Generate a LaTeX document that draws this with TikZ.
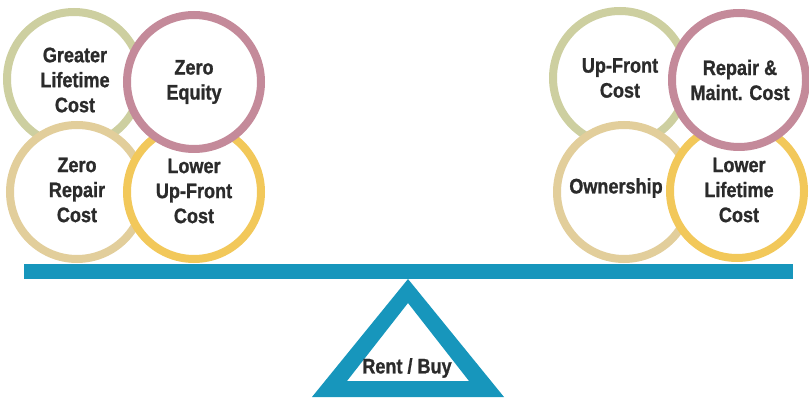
\documentclass[tikz,border=0pt]{standalone}
\usepackage{fontspec}
\setmainfont{Liberation Sans}[FakeStretch=0.86, BoldFeatures={FakeBold=1}]
\usepackage{tikz}
\definecolor{sage}{RGB}{205,207,160}
\definecolor{rose}{RGB}{196,138,154}
\definecolor{sand}{RGB}{226,206,155}
\definecolor{gold}{RGB}{242,200,90}
\definecolor{barblue}{RGB}{23,150,188}
\definecolor{labelgray}{RGB}{43,43,43}
\tikzset{
	ring/.style={circle, draw=#1, line width=8pt, fill=white, minimum size=134pt,
		inner sep=0pt},
	ringlabel/.style={align=center, inner sep=0pt, text=labelgray,
		font=\fontsize{21}{25}\selectfont\bfseries}
}

\begin{document}
\begin{tikzpicture}[x=1pt, y=-1pt]
			%%%%% START %%%%%
			\useasboundingbox (0, 0) rectangle (809, 398);
			
			% rent side
			\node[ring=sage] (greater) at (74, 79) {};
			\node[ring=sand] (zerorepair) at (77, 192) {};
			\node[ring=gold] (lowerup) at (194, 192) {};
			\node[ring=rose] (zeroeq) at (194, 82) {};
			
			% buy side
			\node[ring=sage] (upfront) at (620, 78) {};
			\node[ring=sand] (owner) at (624, 192) {};
			\node[ring=gold] (lowerlife) at (737, 191) {};
			\node[ring=rose] (repair) at (739, 80) {};
			
			% labels
			\node[ringlabel] (greatertext) at (75, 80) {Greater\\Lifetime\\Cost};
			\node[ringlabel] (zeroeqtext) at (194, 82) {Zero\\Equity};
			\node[ringlabel] (zerorepairtext) at (77, 190) {Zero\\Repair\\Cost};
			\node[ringlabel] (loweruptext) at (194, 191) {Lower\\Up-Front\\Cost};
			\node[ringlabel] (upfronttext) at (620, 78) {Up-Front\\Cost};
			\node[ringlabel] (repairtext) at (740, 80) {Repair \&\\Maint. Cost};
			\node[ringlabel] (ownertext) at (616, 188) {Ownership};
			\node[ringlabel] (lowerlifetext) at (739, 190) {Lower\\Lifetime\\Cost};
			
			% beam and pivot
			\fill[barblue] (24, 264) rectangle (793, 279);
			\fill[barblue, even odd rule] (408, 279) -- (504, 397) -- (312, 397) -- cycle
				(408, 303) -- (469, 381) -- (347, 381) -- cycle;
			\node[ringlabel] (rentbuy) at (407, 368) {Rent / Buy};
			
			%%%%% END %%%%%
		\end{tikzpicture}
\end{document}
